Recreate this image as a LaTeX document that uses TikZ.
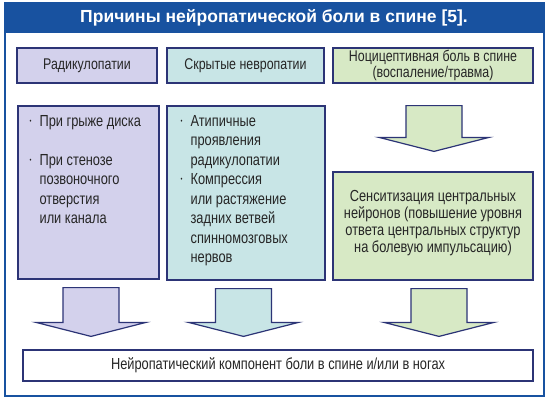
\documentclass[tikz,border=0pt]{standalone}
\usepackage{fontspec}
\setmainfont{Liberation Sans}[FakeStretch=0.80]
\newfontfamily\titlefont{Liberation Sans}
\usetikzlibrary{calc}

\definecolor{frameblue}{RGB}{24,82,160}
\definecolor{boxline}{RGB}{44,52,118}
\definecolor{radfill}{RGB}{211,209,236}
\definecolor{hidfill}{RGB}{200,229,230}
\definecolor{nocfill}{RGB}{215,233,197}
\definecolor{inktext}{RGB}{38,38,38}

% small list bullet
\newcommand{\bul}{\makebox[10pt][l]{\raisebox{3pt}{\fontsize{7}{7}\selectfont\textbullet}}}

% wide block arrow: fill, start, tip
\newcommand{\blockarrow}[3]{%
  \draw[blockarr,fill=#1] let \p1=#2, \p2=#3 in
    (\x1-28pt,\y1) -- (\x1+28pt,\y1) -- (\x1+28pt,\y2+14pt) -- (\x1+55pt,\y2+14pt)
    -- (\x1,\y2) -- (\x1-55pt,\y2+14pt) -- (\x1-28pt,\y2+14pt) -- cycle;}

\begin{document}
\begin{tikzpicture}[
  x=1pt, y=-1pt,
  every node/.style={inner sep=0pt, text=inktext},
  headbox/.style={draw=boxline, line width=1.2pt, align=center,
    font=\fontsize{15.5}{15.5}\selectfont},
  bodybox/.style={draw=boxline, line width=1.2pt},
  listtext/.style={anchor=north west, font=\fontsize{16}{19.5}\selectfont},
  blockarr/.style={draw=boxline, line width=1.2pt, line join=miter}
]
\useasboundingbox (0,0) rectangle (550,402);

% frame and title band
\fill[white] (5,3) rectangle (544,396);
\fill[frameblue] (5,3) rectangle (544,33);
\draw[frameblue, line width=2pt] (5,3) rectangle (544,396);
\node[text=white, font=\titlefont\bfseries\fontsize{17.5}{18}\selectfont] (title) at (274,18)
  {Причины нейропатической боли в спине [5].};

% top row
\node[headbox, fill=radfill, minimum width=140, minimum height=35] (rad) at (87,65.5)
  {Радикулопатии};
\node[headbox, fill=hidfill, minimum width=157, minimum height=35] (hidden) at (245.5,65.5)
  {Скрытые невропатии};
\node[headbox, fill=nocfill, minimum width=200, minimum height=35] (noci) at (433,65.5)
  {Ноцицептивная боль в спине\\(воспаление/травма)};

% second row
\node[bodybox, fill=radfill, minimum width=141, minimum height=173] (radbox) at (88.5,192.5) {};
\node[bodybox, fill=hidfill, minimum width=158, minimum height=174] (hiddenbox) at (246,193) {};
\node[bodybox, fill=nocfill, minimum width=200, minimum height=108] (sens) at (433,226) {};
\node[align=center, font=\fontsize{16}{17}\selectfont] (senstext) at ($(sens.center)+(0,-3)$)
  {Сенситизация центральных\\нейронов (повышение уровня\\ответа центральных структур\\на болевую импульсацию)};

\node[listtext] (radlist) at ($(radbox.north west)+(12,7)$)
  {\begin{tabular}{@{}l@{}l@{}}
   \bul & При грыже диска\\
        & \\
   \bul & При стенозе\\
        & позвоночного\\
        & отверстия\\
        & или канала
   \end{tabular}};
\node[listtext] (hiddenlist) at ($(hiddenbox.north west)+(14,7)$)
  {\begin{tabular}{@{}l@{}l@{}}
   \bul & Атипичные\\
        & проявления\\
        & радикулопатии\\
   \bul & Компрессия\\
        & или растяжение\\
        & задних ветвей\\
        & спинномозговых\\
        & нервов
   \end{tabular}};

% bottom result
\node[headbox, fill=white, minimum width=510, minimum height=31,
  font=\fontsize{16}{16}\selectfont] (result) at (278,365.5)
  {Нейропатический компонент боли в спине и/или в ногах};

% block arrows
\blockarrow{nocfill}{($(noci.south)+(1,22)$)}{($(sens.north)+(0,-20)$)}
\blockarrow{radfill}{($(radbox.south)+(2.5,8)$)}{($(result.north)+(0,-13)$)}
\blockarrow{hidfill}{($(hiddenbox.south)+(-2.5,8)$)}{($(result.north)+(0,-13)$)}
\blockarrow{nocfill}{($(sens.south)+(6,8)$)}{($(result.north)+(0,-13)$)}
\end{tikzpicture}
\end{document}
